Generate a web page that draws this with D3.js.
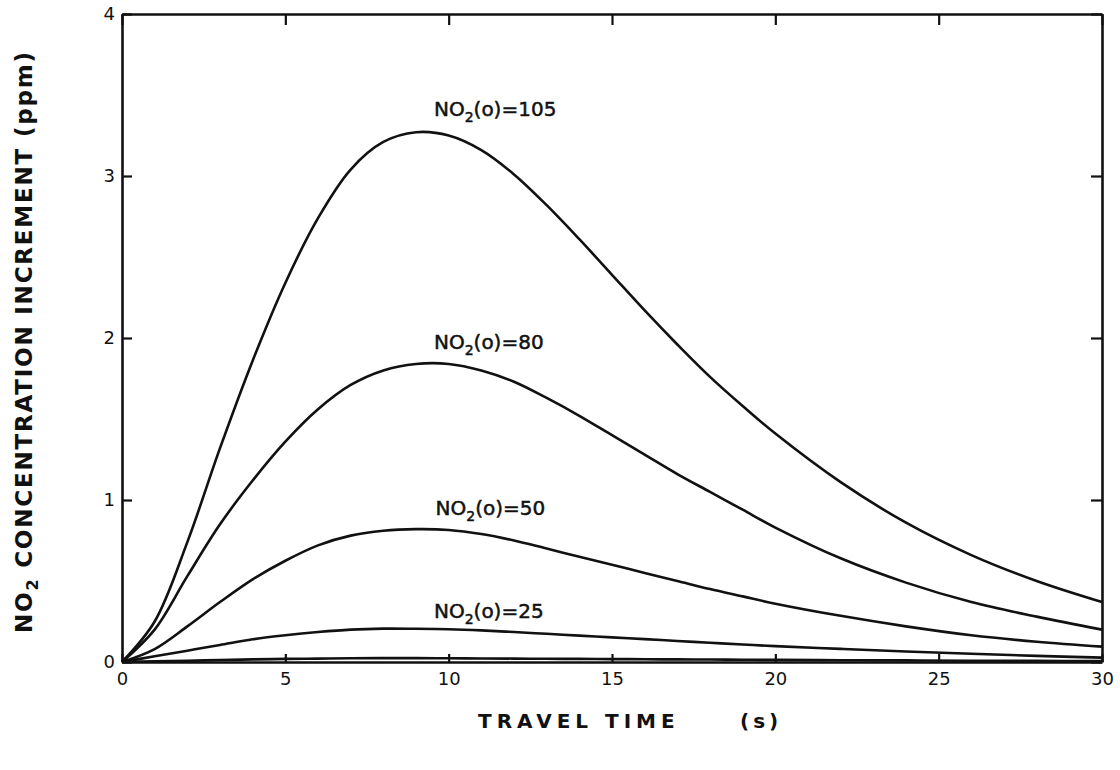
<!DOCTYPE html>
<html>
<head>
<meta charset="utf-8">
<script src="https://cdn.jsdelivr.net/npm/d3@7"></script>
<style>
  html, body { margin: 0; padding: 0; background: #fff; }
  svg { display: block; }
</style>
</head>
<body>
<svg id="chart" width="1120" height="770"></svg>
<script>
// Travel time samples (s)
const travelTime = [0, 1, 2, 3, 4, 5, 6, 7, 8, 9, 10, 11, 12, 13, 14, 15, 16, 17, 18, 19, 20, 22, 24, 26, 28, 30];

// NO2 concentration increment (ppm) for each initial NO2 level
const no2_105 = [0, 0.25, 0.74, 1.32, 1.86, 2.34, 2.74, 3.04, 3.21, 3.27, 3.25, 3.16, 3.01, 2.82, 2.61, 2.39, 2.17, 1.96, 1.76, 1.58, 1.41, 1.11, 0.86, 0.66, 0.50, 0.37];
const no2_80  = [0, 0.20, 0.53, 0.85, 1.12, 1.36, 1.56, 1.71, 1.80, 1.84, 1.84, 1.80, 1.73, 1.63, 1.52, 1.40, 1.28, 1.16, 1.05, 0.94, 0.83, 0.64, 0.49, 0.37, 0.28, 0.20];
const no2_50  = [0, 0.08, 0.22, 0.37, 0.51, 0.625, 0.72, 0.78, 0.81, 0.82, 0.815, 0.79, 0.75, 0.70, 0.65, 0.60, 0.55, 0.50, 0.45, 0.405, 0.36, 0.285, 0.22, 0.165, 0.125, 0.095];
const no2_25  = [0, 0.035, 0.07, 0.105, 0.14, 0.165, 0.185, 0.20, 0.206, 0.205, 0.202, 0.195, 0.185, 0.174, 0.163, 0.152, 0.141, 0.13, 0.119, 0.108, 0.098, 0.081, 0.065, 0.051, 0.038, 0.027];
const no2_low = [0, 0.004, 0.008, 0.012, 0.016, 0.019, 0.021, 0.023, 0.024, 0.024, 0.023, 0.022, 0.021, 0.020, 0.019, 0.018, 0.017, 0.016, 0.015, 0.014, 0.013, 0.011, 0.010, 0.008, 0.007, 0.006];

// Curve labels: initial NO2 value and the travel time / level of the label baseline
const labelValues = ["105", "80", "50", "25"];
const labelTime = [9.55, 9.55, 9.6, 9.55];
const labelLevel = [3.37, 1.93, 0.91, 0.27];

const xTicks = [0, 5, 10, 15, 20, 25, 30];
const yTicks = [0, 1, 2, 3, 4];

const series = [no2_105, no2_80, no2_50, no2_25, no2_low];

const svg = d3.select("#chart");
const plotLeft = 122, plotRight = 1102, plotTop = 14, plotBottom = 662;

const x = d3.scaleLinear().domain([0, 30]).range([plotLeft, plotRight]);
const y = d3.scaleLinear().domain([0, 4]).range([plotBottom, plotTop]);

const tickFont = "DejaVu Sans, sans-serif";

// Left axis with labels
const gLeft = svg.append("g").attr("transform", `translate(${plotLeft},0)`)
  .call(d3.axisLeft(y).tickValues(yTicks).tickFormat(d3.format("d"))
    .tickSizeInner(-10).tickSizeOuter(0).tickPadding(7));
// Bottom axis with labels
const gBottom = svg.append("g").attr("transform", `translate(0,${plotBottom})`)
  .call(d3.axisBottom(x).tickValues(xTicks).tickFormat(d3.format("d"))
    .tickSizeInner(-8).tickSizeOuter(0).tickPadding(10));
// Right and top frame edges with inward ticks
const gRight = svg.append("g").attr("transform", `translate(${plotRight},0)`)
  .call(d3.axisRight(y).tickValues(yTicks).tickFormat("")
    .tickSizeInner(-11).tickSizeOuter(0));
const gTop = svg.append("g").attr("transform", `translate(0,${plotTop})`)
  .call(d3.axisTop(x).tickValues(xTicks).tickFormat("")
    .tickSizeInner(-11).tickSizeOuter(0));

[gLeft, gBottom, gRight, gTop].forEach(g => {
  g.select(".domain").attr("stroke", "#111").attr("stroke-width", 2.6);
  g.selectAll(".tick line").attr("stroke", "#111").attr("stroke-width", 2.2);
  g.selectAll(".tick text")
    .attr("font-family", tickFont)
    .attr("font-size", 18)
    .attr("fill", "#111");
});

// Curves
const line = d3.line()
  .x((d, i) => x(travelTime[i]))
  .y(d => y(d))
  .curve(d3.curveCatmullRom.alpha(0.5));

svg.append("g")
  .selectAll("path")
  .data(series)
  .join("path")
  .attr("d", d => line(d))
  .attr("fill", "none")
  .attr("stroke", "#111")
  .attr("stroke-width", 2.6)
  .attr("stroke-linejoin", "round");

// Curve labels: NO2(o)=value
const lbl = svg.append("g")
  .attr("font-family", tickFont)
  .attr("font-size", 20)
  .attr("fill", "#111")
  .attr("stroke", "#111")
  .attr("stroke-width", 0.5);

labelValues.forEach((v, i) => {
  const t = lbl.append("text")
    .attr("x", x(labelTime[i]))
    .attr("y", y(labelLevel[i]));
  t.append("tspan").text("NO");
  t.append("tspan").attr("font-size", 14).attr("dy", 6).text("2");
  t.append("tspan").attr("dy", -6).text("(o)=" + v);
});

// Axis titles
const yTitle = svg.append("text")
  .attr("transform", `translate(32,${(52 + 633) / 2}) rotate(-90)`)
  .attr("text-anchor", "middle")
  .attr("font-family", tickFont)
  .attr("font-weight", "bold")
  .attr("font-size", 23)
  .attr("fill", "#111")
  .attr("textLength", 581)
  .attr("lengthAdjust", "spacing");
yTitle.append("tspan").text("NO");
yTitle.append("tspan").attr("font-size", 16).attr("dy", 6).text("2");
yTitle.append("tspan").attr("dy", -6).text(" CONCENTRATION  INCREMENT  (ppm)");

svg.append("text")
  .attr("x", 478)
  .attr("y", 728)
  .attr("font-family", tickFont)
  .attr("font-weight", "bold")
  .attr("font-size", 20)
  .attr("letter-spacing", 5)
  .attr("fill", "#111")
  .text("TRAVEL TIME");

svg.append("text")
  .attr("x", 740)
  .attr("y", 728)
  .attr("font-family", tickFont)
  .attr("font-weight", "bold")
  .attr("font-size", 20)
  .attr("letter-spacing", 4)
  .attr("fill", "#111")
  .text("(s)");
</script>
</body>
</html>
